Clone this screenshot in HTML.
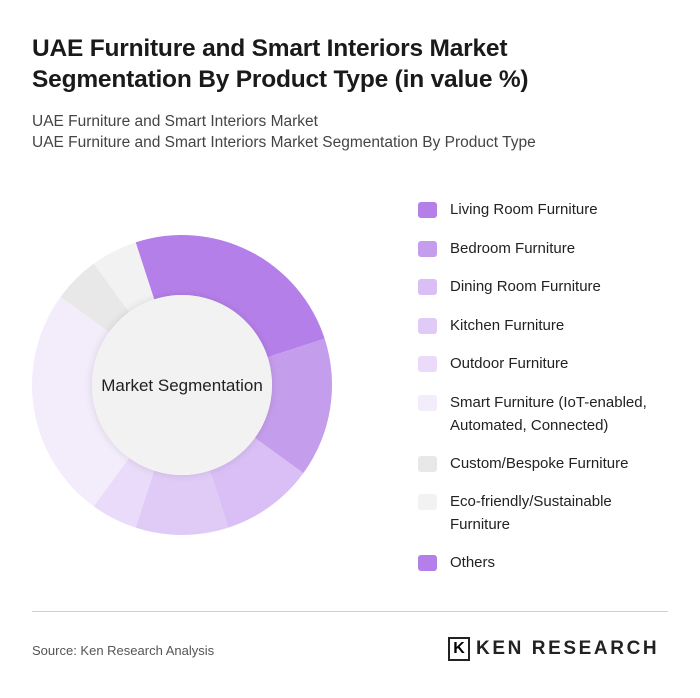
<!DOCTYPE html>
<html><head><meta charset="utf-8">
<style>
body{margin:0;background:#fff;font-family:"Liberation Sans",sans-serif;}
#wrap{position:relative;width:700px;height:698px;overflow:hidden;}
.t{position:absolute;left:32px;color:#222;}
h1{position:absolute;left:32px;top:33px;margin:0;font-size:24.5px;line-height:31px;font-weight:bold;color:#1a1a1a;letter-spacing:-0.2px}
.sub{font-size:15.5px;color:#444;}
.leg{position:absolute;left:418px;font-size:15px;color:#222;line-height:22px}
.sw{position:absolute;left:0;top:3px;width:19px;height:16px;border-radius:3px}
.lt{position:absolute;left:32px;white-space:nowrap}
</style></head><body>
<div id="wrap">
<h1>UAE Furniture and Smart Interiors Market<br>Segmentation By Product Type (in value %)</h1>
<div class="t sub" style="top:113px">UAE Furniture and Smart Interiors Market</div>
<div class="t sub" style="top:134px">UAE Furniture and Smart Interiors Market Segmentation By Product Type</div>
<svg id="donut" width="700" height="698" style="position:absolute;left:0;top:0">
<defs><filter id="sh" x="-20%" y="-20%" width="140%" height="140%"><feDropShadow dx="0" dy="0" stdDeviation="4" flood-color="#000" flood-opacity="0.12"/></filter></defs>
<g id="slices"></g>
<circle cx="182" cy="385" r="90" fill="#f2f2f2" filter="url(#sh)"/>
<text x="182" y="391" text-anchor="middle" font-size="17" fill="#222" font-family="Liberation Sans, sans-serif">Market Segmentation</text>
</svg>
<div id="legend"></div>
<div style="position:absolute;left:32px;top:611px;width:636px;height:1px;background:#d0d0d0"></div>
<div class="t" style="top:643px;font-size:13px;color:#555">Source: Ken Research Analysis</div>
<div style="position:absolute;left:448px;top:637px;width:22px;height:24px;border:2px solid #222;box-sizing:border-box;font-weight:bold;font-size:16px;text-align:center;line-height:20px">K</div>
<div style="position:absolute;left:476px;top:638px;font-size:19px;font-weight:bold;color:#222;letter-spacing:2.6px">KEN RESEARCH</div>
</div>
<script>
const categories=["Living Room Furniture","Bedroom Furniture","Dining Room Furniture","Kitchen Furniture","Outdoor Furniture","Smart Furniture (IoT-enabled, Automated, Connected)","Custom/Bespoke Furniture","Eco-friendly/Sustainable Furniture","Others"];
const values=[25,15,10,10,5,25,5,5,0];
const colors=["#b57fe9","#c59ded","#d9bff5","#e0cbf7","#e9dbf9","#f3ecfb","#e8e8e8","#f2f2f2","#b57fe9"];
const legendLines=[["Living Room Furniture"],["Bedroom Furniture"],["Dining Room Furniture"],["Kitchen Furniture"],["Outdoor Furniture"],["Smart Furniture (IoT-enabled,","Automated, Connected)"],["Custom/Bespoke Furniture"],["Eco-friendly/Sustainable","Furniture"],["Others"]];
const cx=182,cy=385,R=150,r0=90,start=-18;
const total=values.reduce((a,b)=>a+b,0);
function pt(a,rad){const t=a*Math.PI/180;return [cx+rad*Math.sin(t),cy-rad*Math.cos(t)];}
const g=document.getElementById('slices');
let a=start;
values.forEach((v,i)=>{
  if(v<=0)return;
  const sweep=v/total*360,b=a+sweep;
  const [x1,y1]=pt(a,R),[x2,y2]=pt(b,R),[x3,y3]=pt(b,r0),[x4,y4]=pt(a,r0);
  const lg=sweep>180?1:0;
  const p=document.createElementNS('http://www.w3.org/2000/svg','path');
  p.setAttribute('d',`M${x1},${y1}A${R},${R} 0 ${lg} 1 ${x2},${y2}L${x3},${y3}A${r0},${r0} 0 ${lg} 0 ${x4},${y4}Z`);
  p.setAttribute('fill',colors[i]);
  
  
  g.appendChild(p);
  a=b;
});
const L=document.getElementById('legend');
let y=199;
legendLines.forEach((lines,i)=>{
  const d=document.createElement('div');
  d.className='leg';d.style.top=y+'px';
  
  
  d.innerHTML='<div class="sw" style="background:'+colors[i]+'"></div>'+lines.map((s,k)=>'<div class="lt" style="top:'+(k*23)+'px">'+s+'</div>').join('');
  L.appendChild(d);
  y+=lines.length>1?61:38.5;
});
</script>
</body></html>
